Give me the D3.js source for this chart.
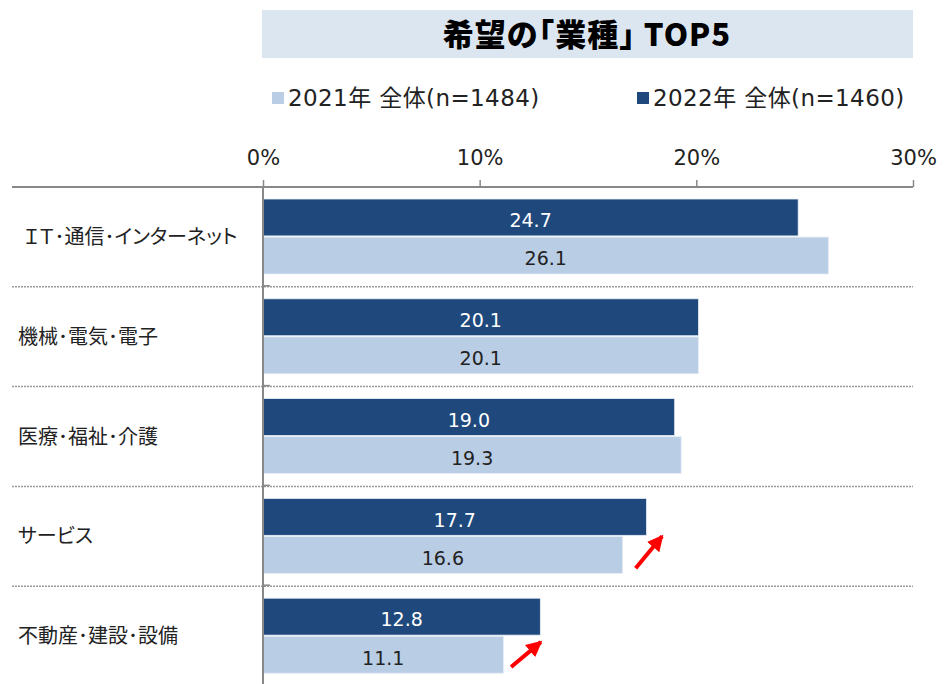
<!DOCTYPE html>
<html>
<head>
<meta charset="utf-8">
<script src="https://cdn.jsdelivr.net/npm/d3@7"></script>
<style>
  body { margin: 0; background: #fff; }
  text { font-family: "DejaVu Sans", "Noto Sans CJK JP", sans-serif; }
  .jp { font-family: "Noto Sans CJK JP", sans-serif; font-feature-settings: "palt"; }
</style>
</head>
<body>
<script>
// data
var categories = ["ＩＴ･通信･インターネット", "機械･電気･電子", "医療･福祉･介護", "サービス", "不動産･建設･設備"];
var series = ["2022年 全体(n=1460)", "2021年 全体(n=1484)"];
var values2022 = [24.7, 20.1, 19.0, 17.7, 12.8];
var values2021 = [26.1, 20.1, 19.3, 16.6, 11.1];
var ticks = [0, 10, 20, 30];
// red arrows: [category, from %, to %, from band fraction, to band fraction]
var arrows = [
  ["サービス", 17.2, 18.65, 0.82, 0.44],
  ["不動産･建設･設備", 11.45, 13.05, 0.81, 0.5]
];

var dark = "#1f497d", light = "#b9cde5";

var W = 947, H = 684;
var svg = d3.select("body").append("svg").attr("width", W).attr("height", H);

var x = d3.scaleLinear().domain([0, 30]).range([263, 913]);
var y = d3.scaleBand().domain(categories).range([187, 686]);
var sub = d3.scaleBand().domain(series).range([12, 87]).paddingInner(0.03);

// title
svg.append("rect").attr("x", 262).attr("y", 10).attr("width", 651).attr("height", 48).attr("fill", "#dce6f1");
svg.append("text")
  .style("font-family", "'Noto Sans CJK JP', sans-serif")
  .attr("x", 587).attr("y", 35).attr("dy", "0.36em")
  .attr("text-anchor", "middle").attr("font-size", 31).attr("font-weight", 900)
  .attr("letter-spacing", 1)
  .text("希望の｢業種｣ TOP5");

// legend
var legend = [
  { name: series[1], color: light, x: 272 },
  { name: series[0], color: dark, x: 637 }
];
var lg = svg.selectAll("g.legend").data(legend).enter().append("g").attr("class", "legend");
lg.append("rect").attr("x", (d) => d.x).attr("y", 92).attr("width", 12).attr("height", 12).attr("fill", (d) => d.color);
lg.append("text").attr("x", (d) => d.x + 16).attr("y", 98).attr("dy", "0.36em")
  .attr("font-size", 23).attr("letter-spacing", 0.4).attr("fill", "#222").text((d) => d.name);

// top axis
var axis = svg.append("g").attr("transform", "translate(0,187)")
  .call(d3.axisTop(x).tickValues(ticks).tickFormat((d) => d + "%").tickSize(7).tickSizeOuter(0));
axis.select(".domain").remove();
axis.selectAll("line").attr("stroke", "#888").attr("stroke-width", 1.5);
axis.selectAll("text").attr("font-size", 21).attr("fill", "#222").attr("y", -22)
  .style("font-family", "'DejaVu Sans', sans-serif");
svg.append("line").attr("x1", 12).attr("x2", 913).attr("y1", 187).attr("y2", 187)
  .attr("stroke", "#888").attr("stroke-width", 2);

// dotted separators
svg.selectAll("line.sep").data(categories.slice(1)).enter().append("line").attr("class", "sep")
  .attr("x1", 12).attr("x2", 913)
  .attr("y1", (d) => y(d)).attr("y2", (d) => y(d))
  .attr("stroke", "#999").attr("stroke-width", 1.5).attr("stroke-dasharray", "2,1");

// rows
var rows = svg.selectAll("g.row").data(categories).enter().append("g").attr("class", "row")
  .attr("transform", (d) => `translate(0,${y(d)})`);

rows.append("text").attr("class", "jp")
  .attr("x", (d, i) => (i === 0 ? 24 : 18)).attr("y", y.bandwidth() / 2).attr("dy", "0.36em")
  .attr("font-size", 20).attr("fill", "#222").text((d) => d);

var barData = (d, i) => [
  { s: series[0], v: values2022[i], c: dark, t: "#fff" },
  { s: series[1], v: values2021[i], c: light, t: "#222" }
];

rows.selectAll("rect.bar").data(barData).enter().append("rect").attr("class", "bar")
  .attr("x", x(0)).attr("y", (d) => sub(d.s))
  .attr("width", (d) => x(d.v) - x(0)).attr("height", sub.bandwidth())
  .attr("fill", (d) => d.c).attr("stroke", "#e8eef6").attr("stroke-width", 0.8);

rows.selectAll("text.val").data(barData).enter().append("text").attr("class", "val")
  .attr("x", (d) => (x(0) + x(d.v)) / 2).attr("y", (d) => sub(d.s) + sub.bandwidth() / 2 + 3)
  .attr("dy", "0.36em").attr("text-anchor", "middle")
  .attr("font-size", 19).attr("fill", (d) => d.t).text((d) => d.v.toFixed(1));

// left axis
svg.append("line").attr("x1", x(0)).attr("x2", x(0)).attr("y1", 187).attr("y2", 686)
  .attr("stroke", "#888").attr("stroke-width", 2);
svg.selectAll("line.ltick").data(categories.slice(1).concat(["end"])).enter().append("line").attr("class", "ltick")
  .attr("x1", x(0)).attr("x2", x(0) + 7)
  .attr("y1", (d) => (d === "end" ? 686 : y(d)) - 1).attr("y2", (d) => (d === "end" ? 686 : y(d)) - 1)
  .attr("stroke", "#888").attr("stroke-width", 1.5);

// arrows
svg.append("defs").append("marker").attr("id", "head")
  .attr("markerUnits", "userSpaceOnUse").attr("markerWidth", 18).attr("markerHeight", 18)
  .attr("refX", 14).attr("refY", 8).attr("orient", "auto")
  .append("path").attr("d", "M0,0 L16,8 L0,16 Z").attr("fill", "#ff0000");

svg.selectAll("line.arrow").data(arrows).enter().append("line").attr("class", "arrow")
  .attr("x1", (d) => x(d[1])).attr("y1", (d) => y(d[0]) + d[3] * y.bandwidth())
  .attr("x2", (d) => x(d[2]) - 5).attr("y2", (d) => y(d[0]) + d[4] * y.bandwidth() + 6)
  .attr("stroke", "#ff0000").attr("stroke-width", 4)
  .attr("marker-end", "url(#head)");
</script>
</body>
</html>
